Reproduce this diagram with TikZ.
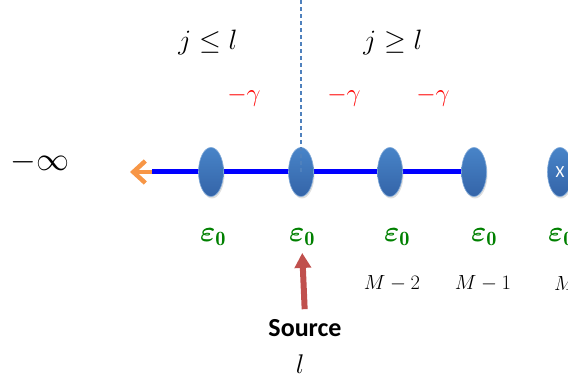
\RequirePackage{fix-cm}
\documentclass[tikz,border=0pt]{standalone}
\usepackage{amsmath}
\usepackage{fontspec}
\newfontfamily\srcfont{Carlito}
\usetikzlibrary{
  arrows.meta,
  positioning,
  shapes.geometric,
  shadows,
  backgrounds
}
\definecolor{siteblue}{RGB}{72,132,200}
\definecolor{sitedark}{RGB}{52,100,168}
\definecolor{chainblue}{RGB}{0,0,255}
\definecolor{tailorange}{RGB}{247,150,70}
\definecolor{hopred}{RGB}{255,0,0}
\definecolor{energygreen}{RGB}{0,128,0}
\definecolor{srcred}{RGB}{192,80,77}
\definecolor{cutblue}{RGB}{79,129,189}
\newcommand{\onsite}{$\boldsymbol{\varepsilon}_{\mathbf{0}}$}
\newcommand{\hopping}{$\color{hopred}-\gamma$}

\tikzset{
  site/.style={ellipse, draw=siteblue!70!white, line width=0.6pt, top color=siteblue, bottom color=sitedark,
    minimum width=25pt, minimum height=49pt, inner sep=0pt,
    drop shadow={opacity=0.25, shadow xshift=1pt, shadow yshift=-2pt}},
  hop/.style={text=hopred, font=\Huge},
  energy/.style={text=energygreen, inner sep=2pt, font=\fontsize{29}{33}\selectfont},
  index/.style={font=\fontsize{20.5}{24}\selectfont}
}

\begin{document}
\begin{tikzpicture}[x=1pt, y=-1pt]
  \useasboundingbox (0,0) rectangle (568,385);
  \clip (0,0) rectangle (568,385);

  % chain of sites
  \node[site] (s1) at (211,172) {};
  \node[site] (s2) at (301,172) {};
  \node[site] (s3) at (390,172) {};
  \node[site] (s4) at (474,172) {};
  \node[site, text=white, font=\srcfont\fontsize{17}{19}\selectfont] (s5) at (560,172) {X};
  \coordinate (tail) at (152,172);
  \coordinate (tip) at (130,172);
  \coordinate (cuttop) at (301,0);

  \begin{scope}[on background layer]
    \draw[chainblue, line width=5pt] (tail) -- (s4.center);
    \draw[tailorange, line width=4.5pt, -{Straight Barb[length=12pt, width=22pt]}] (tail) -- (tip);
  \end{scope}
  \draw[cutblue, line width=1.3pt, dash pattern=on 4pt off 3pt] (s2.center) -- (cuttop);

  \node[font=\fontsize{33}{37}\selectfont] (minf) at (40,162) {$-\infty$};
  \node[font=\fontsize{28}{32}\selectfont] (lside) at (208,43) {$j\le l$};
  \node[font=\fontsize{28}{32}\selectfont] (rside) at (393,43) {$j\ge l$};

  \node[hop] (h1) at (244,97) {\hopping};
  \node[hop] (h2) at (344,97) {\hopping};
  \node[hop] (h3) at (433,97) {\hopping};

  \node[energy] (e1) at (213,237) {\onsite};
  \node[energy] (e2) at (302,237) {\onsite};
  \node[energy] (e3) at (397,237) {\onsite};
  \node[energy] (e4) at (484,237) {\onsite};
  \node[energy] (e5) at (561,237) {\onsite};

  \node[index] (m2) at (392,283) {$M-2$};
  \node[index] (m1) at (483,283) {$M-1$};
  \node[index] (m0) at (565,283) {$M$};

  \node[font=\srcfont\bfseries\fontsize{26}{30}\selectfont, inner sep=2pt] (src) at (305,328) {Source};
  \node[font=\fontsize{27}{31}\selectfont] (lsite) at (300,364) {$l$};

  \draw[srcred, line width=6pt, -{Triangle[length=15pt, width=16pt]}, shorten <=8pt, shorten >=5pt] (src.north) -- (e2.south);
\end{tikzpicture}
\end{document}
